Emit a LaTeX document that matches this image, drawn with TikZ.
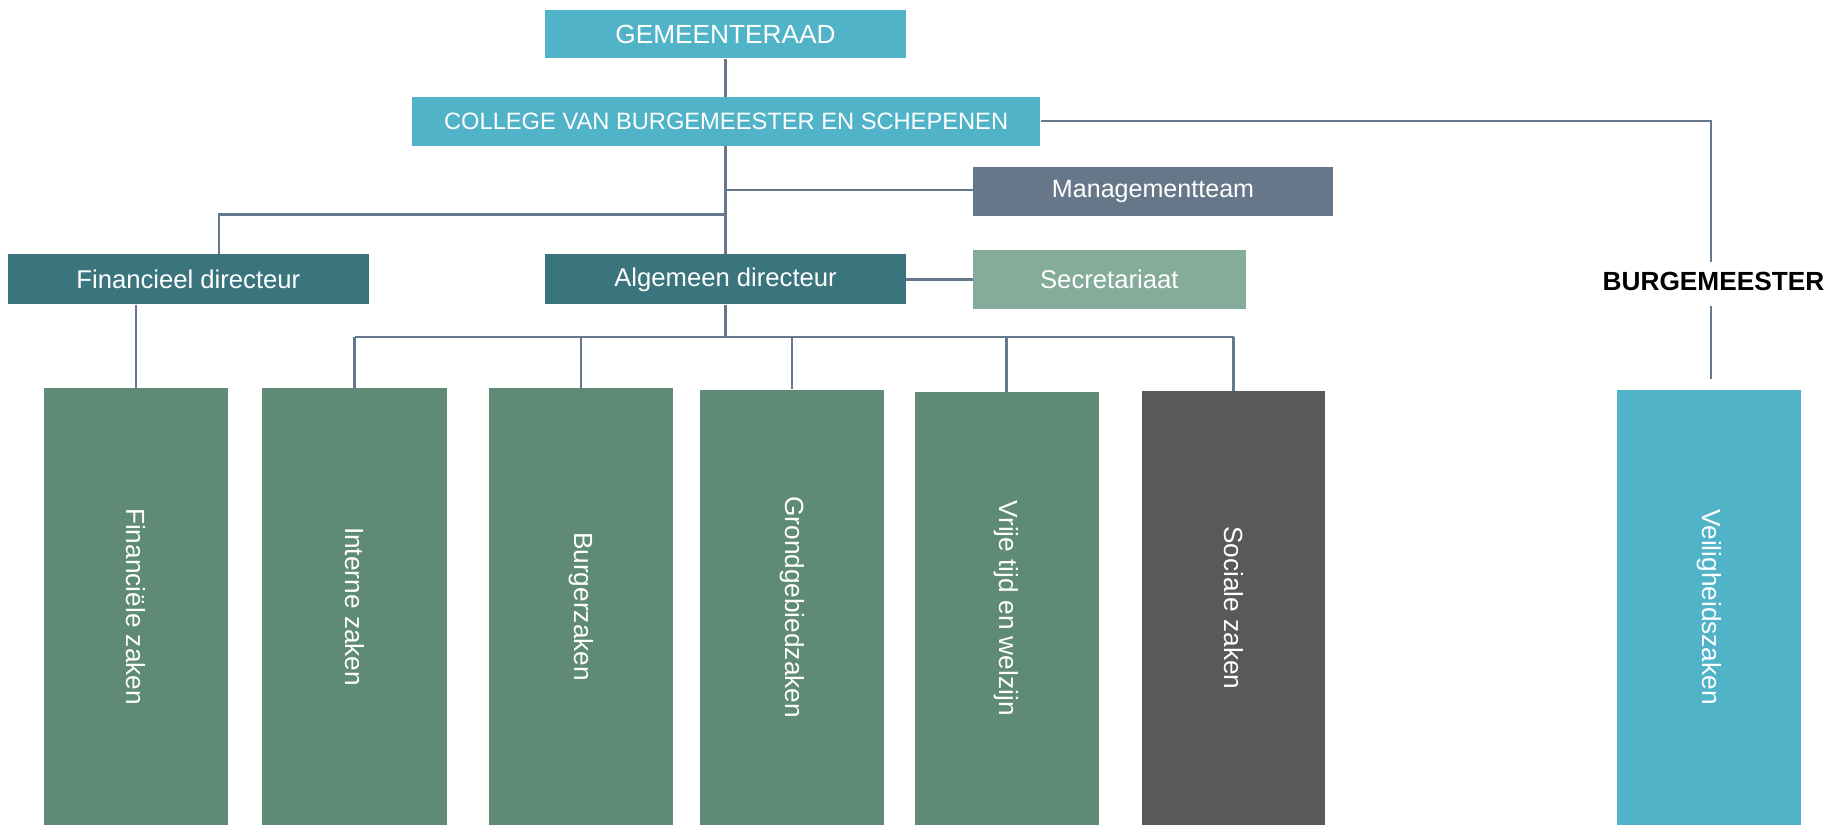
\documentclass[tikz,border=0pt]{standalone}
\usepackage{fontspec}
\setmainfont{Liberation Sans}
\definecolor{cyanbox}{HTML}{50B3C8}
\definecolor{tealbox}{HTML}{3A757E}
\definecolor{slatebox}{HTML}{667789}
\definecolor{sagebox}{HTML}{85AC9B}
\definecolor{greenbox}{HTML}{5E8A76}
\definecolor{greybox}{HTML}{595959}
\definecolor{linecol}{HTML}{65788C}
\begin{document}
\begin{tikzpicture}[x=1pt,y=-1pt,
  box/.style={draw=none,inner sep=0pt,text=white,align=center},
  hbox/.style={box,minimum width=309pt,minimum height=42pt,font=\fontsize{22}{26}\selectfont},
  vbox/.style={box,rotate=-90,minimum height=158pt,font=\fontsize{22.5}{26}\selectfont},
  conn/.style={draw=linecol,line width=2pt}]
\useasboundingbox (0,0) rectangle (1568,707);
% top row
\node[hbox,fill=cyanbox,minimum height=41pt,font=\fontsize{22.5}{26}\selectfont] (gr) at (622,29.5) {GEMEENTERAAD};
\node[hbox,fill=cyanbox,minimum width=539pt,font=\fontsize{20.3}{24}\selectfont] (col) at (622.5,104) {COLLEGE VAN BURGEMEESTER EN SCHEPENEN};
\node[hbox,fill=slatebox,font=\fontsize{21.5}{26}\selectfont] (mt) at (988.5,164) {Managementteam};
\node[hbox,fill=tealbox,minimum height=43pt] (fd) at (161.5,239.5) {Financieel directeur};
\node[hbox,fill=tealbox,minimum height=43pt] (ad) at (622,239.5) {Algemeen directeur};
\node[hbox,fill=sagebox,minimum width=234pt,minimum height=51pt] (sec) at (951,239.5) {Secretariaat};
\node[inner sep=0pt,font=\fontsize{22.5}{26}\selectfont\bfseries] (bm) at (1469,241) {BURGEMEESTER};
% bottom boxes
\node[vbox,fill=greenbox,minimum width=374pt] (fz) at (116.5,520) {Financiële zaken};
\node[vbox,fill=greenbox,minimum width=374pt] (iz) at (304,520) {Interne zaken};
\node[vbox,fill=greenbox,minimum width=374pt] (bz) at (498,520) {Burgerzaken};
\node[vbox,fill=greenbox,minimum width=373pt] (gz) at (679,520.5) {Grondgebiedzaken};
\node[vbox,fill=greenbox,minimum width=371pt] (vw) at (863,521.5) {Vrije tijd en welzijn};
\node[vbox,fill=greybox,minimum width=372pt,minimum height=157pt] (sz) at (1057.5,521) {Sociale zaken};
\node[vbox,fill=cyanbox,minimum width=373pt] (vz) at (1465,520.5) {Veiligheidszaken};
% connectors
\coordinate (jm) at (622,163);
\coordinate (jf) at (622,184);
\coordinate (ja) at (622,289);
\coordinate (jb) at (1467,104);
\coordinate (bmt) at (1467,225);
\coordinate (bmb) at (1467,262);
\coordinate (vzt) at (1467,325);
\draw[conn] (gr.south) -- (col.north -| gr.south);
\draw[conn] (col.south -| ad.north) -- (ad.north);
\draw[conn] (jm) -- (mt.west |- jm);
\draw[conn] (jf) -| (188,218);
\draw[conn] (ad.east) -- (sec.west);
\draw[conn] (ad.south) -- (ja);
\draw[conn] (iz.west |- ja) -- (sz.west |- ja);
\foreach \n in {iz,bz,gz,vw,sz} \draw[conn] (\n.west |- ja) -- (\n.west);
\draw[conn] (fd.south -| fz.west) -- (fz.west);
\draw[conn] (col.east) -- (jb) -- (bmt);
\draw[conn] (bmb) -- (vzt);
\end{tikzpicture}
\end{document}
